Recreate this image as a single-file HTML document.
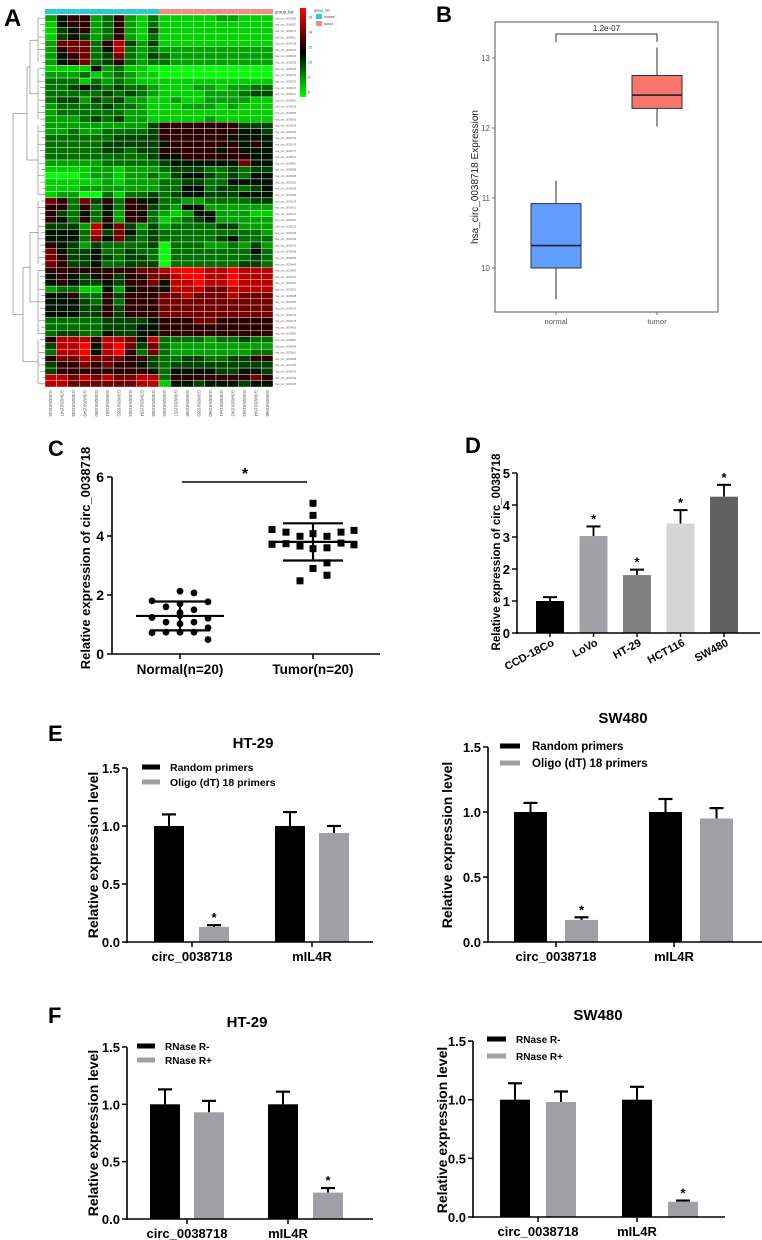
<!DOCTYPE html>
<html><head><meta charset="utf-8"><style>
html,body{margin:0;padding:0;background:#fff;}
svg{display:block;font-family:"Liberation Sans",Arial,sans-serif;}
</style></head><body>
<svg id="fig" width="762" height="1240" viewBox="0 0 762 1240">
<defs><linearGradient id="cbar" x1="0" y1="0" x2="0" y2="1"><stop offset="0" stop-color="#ff0000"/><stop offset="0.5" stop-color="#000000"/><stop offset="1" stop-color="#00ff00"/></linearGradient></defs>
<text x="4" y="26" font-size="24" font-weight="bold">A</text>
<text x="436" y="22" font-size="22" font-weight="bold">B</text>
<text x="48" y="456" font-size="22" font-weight="bold">C</text>
<text x="465" y="453" font-size="22" font-weight="bold">D</text>
<text x="48" y="741" font-size="22" font-weight="bold">E</text>
<text x="48" y="1023" font-size="22" font-weight="bold">F</text>
</svg>
<script>
// ---------- data ----------
const heatRows = [
"25662362131111122111","15662362131111111111","14562362141111111111","14542362131111111111",
"27773684241111111111","26773583232222222222","25673473243222222222","25673463233222222222",
"11115231100000000000","22231232110000000000","33313232111111111111","33454343321112212233",
"33333434321111222344","34424342211211222211","23333433211122212111","23333332211111111111",
"22234342211111211111",
"22222222246666666444","22322333346666666554","33333344446666665555","33333444445666666565",
"33333443446666656555","33333333345566666655","22222333334555555755","11112212223444334344",
"00012212232455434355","11111212223344335555","11122222223355344345","12200313343455444555",
"76374636553322333344","66363536643255222222","64353526532125522211","65363626631234522222",
"44428574242333344222","55538475343333333332","55537574343333345333","65424333340333223242",
"75445334330333333353","76445434430333333343","76445334440333333443",
"66666666778999889888","56545646677899889888","56544546675889889888","23311525665888778888",
"55633646667787778777","55543636667777777777","55544646667777777777","55544646667777777777",
"33333444456667766666","33333444556666666666","34433544556666666666",
"68886887583333233433","48895897473222222222","38895896373222222233","67787776643344334466",
"46676766543444444444","46666666653555544554","88787877883666666676","88777777881554555455"];
const heatCols = ["GSM2691546","GSM2691547","GSM2691548","GSM2691549","GSM2691550","GSM2691551","GSM2691552","GSM2691553","GSM2691554","GSM2691555","GSM2691556","GSM2691557","GSM2691558","GSM2691559","GSM2691560","GSM2691561","GSM2691562","GSM2691563","GSM2691564","GSM2691565"];
const boxCats = ["normal","tumor"];
const boxMin = [9.55, 12.02];
const boxQ1 = [10.0, 12.28];
const boxMed = [10.32, 12.47];
const boxQ3 = [10.92, 12.75];
const boxMax = [11.25, 13.15];
const boxTicks = [10, 11, 12, 13];
const cNormal = [1.8,1.77,2.13,2.07,1.6,1.7,1.5,1.4,1.24,1.21,1.08,1.08,1.02,0.89,0.72,0.74,0.74,0.74,0.49,1.3];
const cTumor = [5.11,4.7,4.22,4.13,3.99,4.08,3.99,4.13,4.19,3.72,3.74,3.66,3.57,3.6,3.76,3.7,2.9,3.09,2.67,2.48];
const cMean = [1.29, 3.8];
const cSdLow = [0.8, 3.17];
const cSdHigh = [1.78, 4.43];
const cTicks = [0, 2, 4, 6];
const dCats = ["CCD-18Co","LoVo","HT-29","HCT116","SW480"];
const dVals = [1.0, 3.03, 1.81, 3.42, 4.26];
const dErr = [1.12, 3.33, 1.98, 3.84, 4.63];
const dTicks = [0,1,2,3,4,5];
const barCats = ["circ_0038718","mIL4R"];
const barTicks = [0, 0.5, 1.0, 1.5];
const eHtBlack = [1.0, 1.0];
const eHtBlackErr = [1.1, 1.12];
const eHtGray = [0.13, 0.94];
const eHtGrayErr = [0.145, 1.0];
const eSwBlack = [1.0, 1.0];
const eSwBlackErr = [1.07, 1.1];
const eSwGray = [0.17, 0.95];
const eSwGrayErr = [0.19, 1.03];
const fHtBlack = [1.0, 1.0];
const fHtBlackErr = [1.13, 1.11];
const fHtGray = [0.93, 0.23];
const fHtGrayErr = [1.03, 0.27];
const fSwBlack = [1.0, 1.0];
const fSwBlackErr = [1.14, 1.11];
const fSwGray = [0.98, 0.13];
const fSwGrayErr = [1.07, 0.14];

// ---------- helpers ----------
const NS = "http://www.w3.org/2000/svg";
const svg = document.getElementById("fig");
function mk(tag, attrs, parent) {
  const e = document.createElementNS(NS, tag);
  for (const k in attrs) e.setAttribute(k, attrs[k]);
  (parent || svg).appendChild(e);
  return e;
}
function txt(x, y, s, attrs, parent) {
  const t = mk("text", Object.assign({x: x, y: y}, attrs || {}), parent);
  t.textContent = s;
  return t;
}
function line(x1, y1, x2, y2, stroke, w, parent) {
  return mk("line", {x1: x1, y1: y1, x2: x2, y2: y2, stroke: stroke, "stroke-width": w}, parent);
}

// ---------- A heatmap ----------
(function () {
  const g = mk("g", {});
  
  
  const x0 = 45, x1 = 273, y0 = 15, y1 = 387;
  const cw = (x1 - x0) / heatCols.length, rh = (y1 - y0) / heatRows.length;
  function col(d) {
    const e = 6 + d * 10 / 9;
    if (e <= 12) { const gch = Math.round(255 * (12 - e) / 6); return "rgb(0," + gch + ",0)"; }
    const r = Math.round(255 * (e - 12) / 4); return "rgb(" + Math.min(255, r) + ",0,0)";
  }
  heatRows.forEach(function (row, i) {
    for (let j = 0; j < row.length; j++) {
      const c = mk("rect", {x: x0 + j * cw, y: y0 + i * rh, width: cw, height: rh, fill: col(+row[j]), stroke: "#fff", "stroke-width": 0.4}, g);
      
      
    }
    const rl = txt(275, y0 + i * rh + rh * 0.7, "hsa_circ_00" + (38000 + i * 37), {"font-size": 2.6, fill: "#666"}, g);
    
    
  });
  heatCols.forEach(function (name, j) {
    const gb = mk("rect", {x: x0 + j * cw, y: 9, width: cw, height: 5, fill: j < 10 ? "#2ccbd3" : "#f08c84"}, g);
    
    
    const cx = x0 + j * cw + cw / 2 - 1.5;
    const cl = txt(cx, 390, name, {"font-size": 4.3, fill: "#555", transform: "rotate(90 " + cx + " 390)"}, g);
    
    
  });
  const gl = txt(275, 13.5, "group_list", {"font-size": 4.3, fill: "#333"}, g);
  
  
  // dendrogram (simplified)
  const dg = mk("g", {stroke: "#777", "stroke-width": 0.6, fill: "none"}, g);
  
  
  function ry(i) { return y0 + (i + 0.5) * rh; }
  const clusters = [[0, 7], [8, 16], [17, 28], [29, 39], [40, 50], [51, 58]];
  const mids = [];
  clusters.forEach(function (c) {
    for (let i = c[0]; i <= c[1]; i++) line(38 + ((i * 7) % 5), ry(i), 45, ry(i), "#777", 0.6, dg);
    line(38, ry(c[0]), 38, ry(c[1]), "#777", 0.6, dg);
    mids.push((ry(c[0]) + ry(c[1])) / 2);
  });
  const px = [30, 26, 30, 31, 24];
  // join 0-1
  line(30, mids[0], 38, mids[0], "#777", .6, dg); line(30, mids[1], 38, mids[1], "#777", .6, dg); line(30, mids[0], 30, mids[1], "#777", .6, dg);
  line(27, mids[2], 38, mids[2], "#777", .6, dg); line(27, (mids[0]+mids[1])/2, 30, (mids[0]+mids[1])/2, "#777", .6, dg);
  line(27, (mids[0]+mids[1])/2, 27, mids[2], "#777", .6, dg);
  line(30, mids[3], 38, mids[3], "#777", .6, dg); line(30, mids[4], 38, mids[4], "#777", .6, dg); line(30, mids[3], 30, mids[4], "#777", .6, dg);
  line(23, mids[5], 38, mids[5], "#777", .6, dg); line(23, (mids[3]+mids[4])/2, 30, (mids[3]+mids[4])/2, "#777", .6, dg);
  line(23, (mids[3]+mids[4])/2, 23, mids[5], "#777", .6, dg);
  const a = ((mids[0]+mids[1])/2 + mids[2]) / 2, b = ((mids[3]+mids[4])/2 + mids[5]) / 2;
  line(13, a, 27, a, "#777", .6, dg); line(13, b, 23, b, "#777", .6, dg); line(13, a, 13, b, "#777", .6, dg);
  // colour key
  const cb = mk("rect", {x: 300, y: 8, width: 6, height: 89, fill: "url(#cbar)"}, g);
  
  
  [["16", 17], ["14", 32], ["12", 47], ["10", 62], ["8", 77], ["6", 92]].forEach(function (t) {
    const k = txt(308, t[1] + 1.5, t[0], {"font-size": 3.8, fill: "#444"}, g);
    
    
  });
  const lg = txt(314, 11.5, "group_list", {"font-size": 3.6, fill: "#333"}, g);
  
  
  mk("rect", {x: 316, y: 14, width: 6, height: 5, fill: "#2ccbd3"}, g);
  mk("rect", {x: 316, y: 21, width: 6, height: 5, fill: "#f08c84"}, g);
  const ln = txt(324, 18, "normal", {"font-size": 3.6, fill: "#444"}, g);
  
  
  const lt = txt(324, 25, "tumor", {"font-size": 3.6, fill: "#444"}, g);
  
  
})();

// ---------- B boxplot ----------
(function () {
  const g = mk("g", {});
  
  
  const yS = function (v) { return 268 - (v - 10) * 70; };
  const xS = function (i) { return 556 + i * 101; };
  const fr = mk("rect", {x: 495, y: 22, width: 223, height: 290, fill: "none", stroke: "#555", "stroke-width": 1}, g);
  
  
  boxTicks.forEach(function (t) {
    line(492, yS(t), 495, yS(t), "#555", 0.8, g);
    const l = txt(490, yS(t) + 3, String(t), {"font-size": 8, fill: "#555", "text-anchor": "end"}, g);
    
    
  });
  const fills = ["#619cff", "#f8766d"];
  boxCats.forEach(function (c, i) {
    const x = xS(i);
    line(x, yS(boxMin[i]), x, yS(boxMax[i]), "#333", 1, g);
    const r = mk("rect", {x: x - 25, y: yS(boxQ3[i]), width: 50, height: yS(boxQ1[i]) - yS(boxQ3[i]), fill: fills[i], stroke: "#333", "stroke-width": 1}, g);
    
    
    line(x - 25, yS(boxMed[i]), x + 25, yS(boxMed[i]), "#222", 1.6, g);
    line(x, 312, x, 315, "#555", 0.8, g);
    const l = txt(x, 324, c, {"font-size": 7.5, fill: "#555", "text-anchor": "middle"}, g);
    
    
  });
  const br = mk("path", {d: "M" + xS(0) + " 42 V34 H" + xS(1) + " V42", fill: "none", stroke: "#333", "stroke-width": 1}, g);
  
  
  const pv = txt((xS(0) + xS(1)) / 2, 31, "1.2e-07", {"font-size": 8, fill: "#222", "text-anchor": "middle"}, g);
  
  
  const yt = txt(0, 0, "hsa_circ_0038718 Expression", {"font-size": 10, fill: "#222", "text-anchor": "middle", transform: "translate(478 177) rotate(-90)"}, g);
  
  
})();

// ---------- C scatter ----------
(function () {
  const g = mk("g", {});
  
  
  const y0 = 654, ppu = 29.5;
  const yS = function (v) { return y0 - v * ppu; };
  const cx = [180, 313];
  line(112, yS(6), 112, y0 + 1, "#000", 1.6, g);
  line(111, y0, 380, y0, "#000", 1.6, g);
  cTicks.forEach(function (t) {
    line(107, yS(t), 112, yS(t), "#000", 1.5, g);
    const l = txt(104, yS(t) + 5, String(t), {"font-size": 14, "font-weight": "bold", "text-anchor": "end"}, g);
    
    
  });
  ["Normal(n=20)", "Tumor(n=20)"].forEach(function (s, i) {
    line(cx[i], y0, cx[i], y0 + 5, "#000", 1.5, g);
    const l = txt(cx[i], 674, s, {"font-size": 13.5, "font-weight": "bold", "text-anchor": "middle", "transform": "scale(1 1)"}, g);
    
    
  });
  const offN = [-28, 28, 0, 14, -14, 0, 14, 0, -28, 28, -14, 14, 0, 28, -28, -14, 0, 14, 28, 0];
  cNormal.forEach(function (v, i) {
    const p = mk("circle", {cx: cx[0] + offN[i], cy: yS(v), r: 3.4, fill: "#000"}, g);
    
    
  });
  const offT = [0, 0, -41, -27, -13, 0, 14, 28, 41, -41, -27, -13, 0, 14, 28, 41, 0, 14, 14, -13];
  cTumor.forEach(function (v, i) {
    const p = mk("rect", {x: cx[1] + offT[i] - 3.5, y: yS(v) - 3.5, width: 7, height: 7, fill: "#000"}, g);
    
    
  });
  [0, 1].forEach(function (i) {
    line(cx[i] - 44, yS(cMean[i]), cx[i] + 44, yS(cMean[i]), "#000", 2.2, g);
    line(cx[i] - 30, yS(cSdLow[i]), cx[i] + 30, yS(cSdLow[i]), "#000", 2.2, g);
    line(cx[i] - 30, yS(cSdHigh[i]), cx[i] + 30, yS(cSdHigh[i]), "#000", 2.2, g);
    line(cx[i], yS(cSdLow[i]), cx[i], yS(cSdHigh[i]), "#000", 2.2, g);
  });
  line(182, 482, 307, 482, "#000", 1.6, g);
  const st = txt(245, 479, "*", {"font-size": 16, "font-weight": "bold", "text-anchor": "middle"}, g);
  
  
  const yt = txt(0, 0, "Relative expression of circ_0038718", {"font-size": 13, "font-weight": "bold", "text-anchor": "middle", transform: "translate(90 558) rotate(-90)"}, g);
  
  
})();

// ---------- D bars ----------
(function () {
  const g = mk("g", {});
  
  
  const y0 = 633, ppu = 32;
  const yS = function (v) { return y0 - v * ppu; };
  const xS = function (i) { return 550 + i * 43.5; };
  const cols = ["#000000", "#a1a1a5", "#808080", "#d5d5d5", "#606060"];
  dCats.forEach(function (c, i) {
    const x = xS(i);
    line(x, yS(dVals[i]), x, yS(dErr[i]), "#000", 1.8, g);
    line(x - 7, yS(dErr[i]), x + 7, yS(dErr[i]), "#000", 2, g);
    const b = mk("rect", {x: x - 14, y: yS(dVals[i]), width: 28, height: dVals[i] * ppu, fill: cols[i]}, g);
    
    
    if (i > 0) {
      const s = txt(x, yS(dErr[i]) - 3, "*", {"font-size": 13, "font-weight": "bold", "text-anchor": "middle"}, g);
      
      
    }
    line(x, y0, x, y0 + 4, "#000", 1.4, g);
    const l = txt(x + 5, y0 + 12, c, {"font-size": 11, "font-weight": "bold", "text-anchor": "end", transform: "rotate(-28 " + (x + 5) + " " + (y0 + 12) + ")"}, g);
    
    
  });
  line(517, yS(5), 517, y0 + 1, "#000", 1.5, g);
  line(516, y0, 760, y0, "#000", 1.5, g);
  dTicks.forEach(function (t) {
    line(512, yS(t), 517, yS(t), "#000", 1.4, g);
    const l = txt(510, yS(t) + 5, String(t), {"font-size": 13, "font-weight": "bold", "text-anchor": "end"}, g);
    
    
  });
  const yt = txt(0, 0, "Relative expression of circ_0038718", {"font-size": 11.5, "font-weight": "bold", "text-anchor": "middle", transform: "translate(500 552) rotate(-90)"}, g);
  
  
})();

// ---------- E / F grouped bars ----------
function groupedBars(cfg, bV, bE, gV, gE) {
  const g = mk("g", {});
  
  
  const yS = function (v) { return cfg.y0 - v * cfg.ppu; };
  [[bV, bE, cfg.bx, "#000000", "black-bar"], [gV, gE, cfg.gx, "#a0a0a4", "gray-bar"]].forEach(function (s) {
    s[0].forEach(function (v, i) {
      const x = s[2][i], w = cfg.w;
      line(x + w / 2, yS(v), x + w / 2, yS(s[1][i]), "#000", 2, g);
      line(x + w / 2 - 7, yS(s[1][i]), x + w / 2 + 7, yS(s[1][i]), "#000", 2.2, g);
      const b = mk("rect", {x: x, y: yS(v), width: w, height: v * cfg.ppu, fill: s[3]}, g);
      
      
    });
  });
  cfg.stars.forEach(function (st) {
    const x = (st[0] ? cfg.gx : cfg.bx)[st[1]] + cfg.w / 2;
    const e = (st[0] ? gE : bE)[st[1]];
    const s = txt(x, yS(e) - 3, "*", {"font-size": 13, "font-weight": "bold", "text-anchor": "middle"}, g);
    
    
  });
  line(cfg.ax, yS(1.5), cfg.ax, cfg.y0 + 1, "#000", 1.6, g);
  line(cfg.ax - 1, cfg.y0, cfg.xEnd, cfg.y0, "#000", 1.6, g);
  barTicks.forEach(function (t) {
    line(cfg.ax - 5, yS(t), cfg.ax, yS(t), "#000", 1.5, g);
    const l = txt(cfg.ax - 7, yS(t) + 5, t.toFixed(1), {"font-size": 13, "font-weight": "bold", "text-anchor": "end"}, g);
    
    
  });
  barCats.forEach(function (c, i) {
    line(cfg.tx[i], cfg.y0, cfg.tx[i], cfg.y0 + 5, "#000", 1.5, g);
    const l = txt(cfg.tx[i], cfg.y0 + 19, c, {"font-size": 13, "font-weight": "bold", "text-anchor": "middle"}, g);
    
    
  });
  const ti = txt(cfg.title[0], cfg.title[1], cfg.titleText, {"font-size": 15, "font-weight": "bold", "text-anchor": "middle"}, g);
  
  
  const yt = txt(0, 0, "Relative expression level", {"font-size": 14, "font-weight": "bold", "text-anchor": "middle", transform: "translate(" + cfg.yt[0] + " " + cfg.yt[1] + ") rotate(-90)"}, g);
  
  
  [[cfg.leg[0], "#000"], [cfg.leg[1], "#a0a0a4"]].forEach(function (L, k) {
    const ly = cfg.leg[2] + k * cfg.leg[3];
    mk("rect", {x: cfg.leg[4], y: ly - 2.5, width: cfg.leg[5], height: 5, fill: L[1]}, g);
    const lt = txt(cfg.leg[6], ly + 4, L[0], {"font-size": cfg.leg[7], "font-weight": "bold"}, g);
    
    
  });
  return g;
}
const e1 = groupedBars({name: "e-ht29-panel", y0: 942, ppu: 116, ax: 127, xEnd: 373, w: 30, bx: [154, 275], gx: [199, 319], tx: [192, 312],
  stars: [[1, 0]], title: [253, 748], titleText: "HT-29", yt: [98, 855],
  leg: ["Random primers", "Oligo (dT) 18 primers", 767, 15, 142, 18, 170, 10.5]}, eHtBlack, eHtBlackErr, eHtGray, eHtGrayErr);
const e2 = groupedBars({name: "e-sw480-panel", y0: 942, ppu: 130, ax: 488, xEnd: 762, w: 33, bx: [514, 649], gx: [565, 700], tx: [556, 674],
  stars: [[1, 0]], title: [623, 723], titleText: "SW480", yt: [452, 845],
  leg: ["Random primers", "Oligo (dT) 18 primers", 746, 17, 500, 20, 532, 11.5]}, eSwBlack, eSwBlackErr, eSwGray, eSwGrayErr);
const f1 = groupedBars({name: "f-ht29-panel", y0: 1219, ppu: 114.7, ax: 127, xEnd: 373, w: 30, bx: [150, 268], gx: [194, 313], tx: [187, 288],
  stars: [[1, 1]], title: [247, 1027], titleText: "HT-29", yt: [98, 1133],
  leg: ["RNase R-", "RNase R+", 1046, 14, 137, 18, 165, 10]}, fHtBlack, fHtBlackErr, fHtGray, fHtGrayErr);
const f2 = groupedBars({name: "f-sw480-panel", y0: 1217, ppu: 117.3, ax: 473, xEnd: 725, w: 30, bx: [500, 622], gx: [546, 668], tx: [538, 637],
  stars: [[1, 1]], title: [598, 1020], titleText: "SW480", yt: [447, 1130],
  leg: ["RNase R-", "RNase R+", 1039, 17, 487, 19, 516, 10]}, fSwBlack, fSwBlackErr, fSwGray, fSwGrayErr);
</script>
</body></html>
